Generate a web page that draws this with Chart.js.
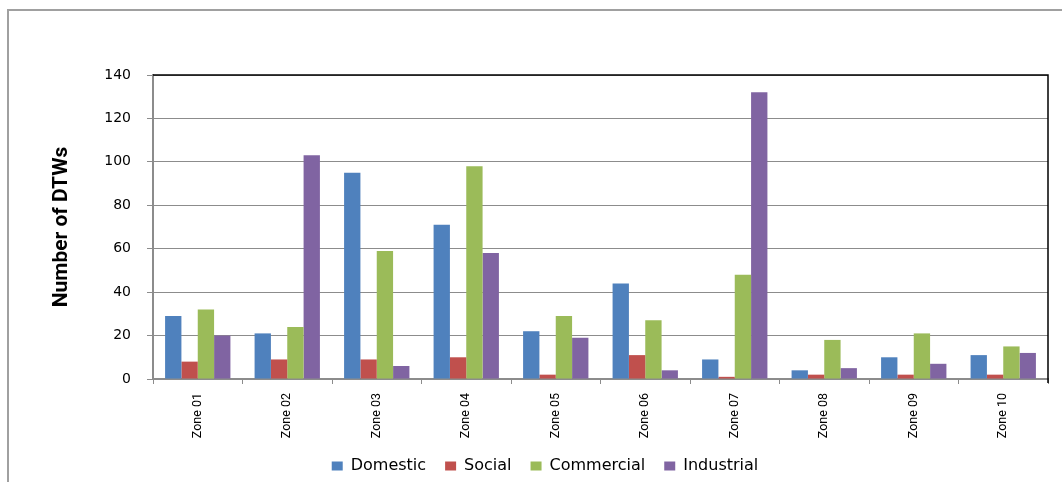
<!DOCTYPE html>
<html>
<head>
<meta charset="utf-8">
<title>DTWs por zona</title>
<script src="https://cdn.jsdelivr.net/npm/chart.js@4.4.0/dist/chart.umd.min.js"></script>
<style>
    body { margin: 0; background: #fff; }
    #graficoZonas { display: block; }
</style>
</head>
<body>
<canvas id="graficoZonas" width="1062" height="482"></canvas>
<script>
// zonas e quantidade de DTWs por tipo de uso
const zonas = ['Zone 01', 'Zone 02', 'Zone 03', 'Zone 04', 'Zone 05', 'Zone 06', 'Zone 07', 'Zone 08', 'Zone 09', 'Zone 10']
const domestic = [29, 21, 95, 71, 22, 44, 9, 4, 10, 11]
const social = [8, 9, 9, 10, 2, 11, 1, 2, 2, 2]
const commercial = [32, 24, 59, 98, 29, 27, 48, 18, 21, 15]
const industrial = [20, 103, 6, 58, 19, 4, 132, 5, 7, 12]
const marcasY = [0, 20, 40, 60, 80, 100, 120, 140]

const cinzaEixo = '#8c8c8c'

// borda externa cinza + moldura preta no topo e na direita da área do gráfico
const moldura = {
    id: 'moldura',
    beforeDraw(chart) {
        const ctx = chart.ctx
        ctx.save()
        ctx.fillStyle = '#fff'
        ctx.fillRect(0, 0, chart.width, chart.height)
        ctx.strokeStyle = '#a0a0a0'
        ctx.lineWidth = 2
        ctx.beginPath()
        ctx.moveTo(8, chart.height)
        ctx.lineTo(8, 10)
        ctx.lineTo(chart.width, 10)
        ctx.stroke()
        ctx.restore()
    },
    afterDatasetsDraw(chart) {
        const area = chart.chartArea
        const ctx = chart.ctx
        ctx.save()
        ctx.strokeStyle = '#000'
        ctx.lineWidth = 1.5
        ctx.beginPath()
        ctx.moveTo(area.left, area.top)
        ctx.lineTo(area.right, area.top)
        ctx.lineTo(area.right, area.bottom + 4)
        ctx.stroke()
        ctx.restore()
    }
}

const config = {
    type: 'bar',
    data: {
        labels: zonas,
        datasets: [
            { label: 'Domestic', data: domestic, backgroundColor: '#4f81bd' },
            { label: 'Social', data: social, backgroundColor: '#c0504d' },
            { label: 'Commercial', data: commercial, backgroundColor: '#9bbb59' },
            { label: 'Industrial', data: industrial, backgroundColor: '#8064a2' }
        ]
    },
    options: {
        responsive: false,
        animation: false,
        // padding esquerdo maior só para centralizar a legenda
        layout: { padding: { top: 75, left: 42, right: 14, bottom: 0 } },
        datasets: {
            bar: { categoryPercentage: 0.73, barPercentage: 1, borderWidth: 0 }
        },
        scales: {
            x: {
                grid: { drawOnChartArea: false, tickLength: 5, color: cinzaEixo, offset: true },
                border: { color: cinzaEixo, width: 2 },
                ticks: {
                    minRotation: 90,
                    maxRotation: 90,
                    padding: 9,
                    color: '#000',
                    font: { family: 'Roboto, sans-serif', size: 12.5 }
                },
                afterFit: (escala) => { escala.height = 60 }
            },
            y: {
                min: 0,
                max: 140,
                afterBuildTicks: (escala) => { escala.ticks = marcasY.map(v => ({ value: v })) },
                afterFit: (escala) => { escala.width = 111 },
                grid: { color: cinzaEixo, lineWidth: 1, tickLength: 6 },
                border: { color: cinzaEixo, width: 2 },
                ticks: {
                    padding: 16,
                    color: '#000',
                    font: { family: '"DejaVu Sans", Verdana, sans-serif', size: 14 }
                },
                title: {
                    display: true,
                    text: 'Number of DTWs',
                    color: '#000',
                    padding: { top: 7 },
                    font: { family: 'Roboto, sans-serif', size: 21, weight: 'bold' }
                }
            }
        },
        plugins: {
            legend: {
                position: 'bottom',
                maxHeight: 43,
                labels: {
                    boxWidth: 11,
                    boxHeight: 9,
                    padding: 19,
                    color: '#000',
                    font: { family: '"DejaVu Sans", Verdana, sans-serif', size: 16 }
                }
            },
            tooltip: { enabled: false }
        }
    },
    plugins: [moldura]
}

let meuGrafico = new Chart(document.getElementById('graficoZonas'), config)
</script>
</body>
</html>
